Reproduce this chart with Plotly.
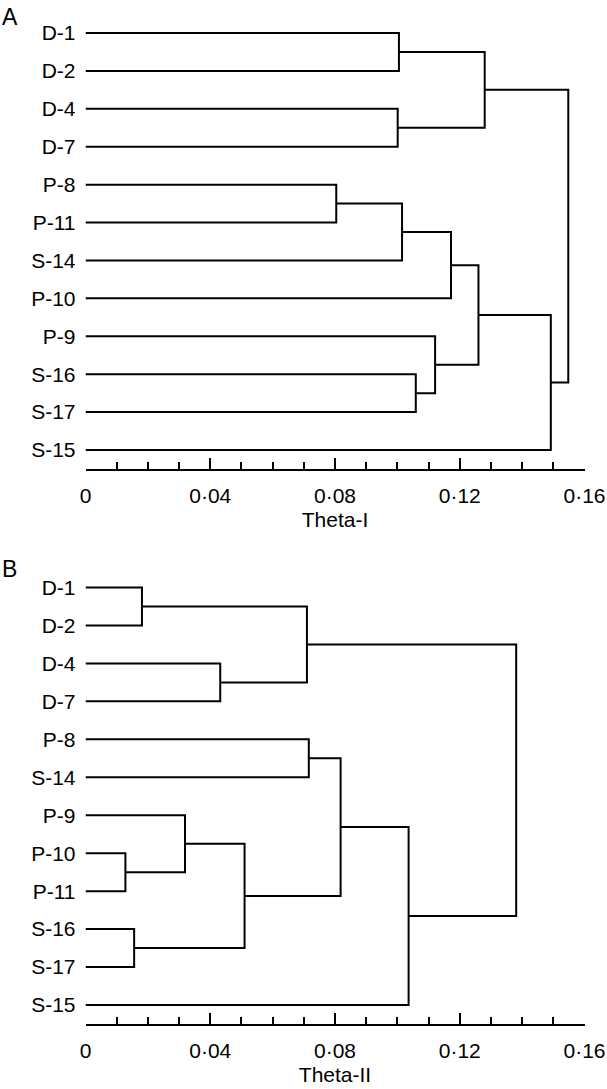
import numpy as np
import plotly.graph_objects as go

# ---------------- data ----------------
leaves_A = ["D-1", "D-2", "D-4", "D-7", "P-8", "P-11", "S-14", "P-10", "P-9", "S-16", "S-17", "S-15"]
# merges: (left, right, height); clusters referenced as "c<index>"
merges_A = [
    ("D-1", "D-2", 0.1005),
    ("D-4", "D-7", 0.1001),
    ("c0", "c1", 0.1280),
    ("P-8", "P-11", 0.0804),
    ("c3", "S-14", 0.1015),
    ("c4", "P-10", 0.1172),
    ("S-16", "S-17", 0.1059),
    ("P-9", "c6", 0.1121),
    ("c5", "c7", 0.1260),
    ("c8", "S-15", 0.1492),
    ("c2", "c9", 0.1548),
]

leaves_B = ["D-1", "D-2", "D-4", "D-7", "P-8", "S-14", "P-9", "P-10", "P-11", "S-16", "S-17", "S-15"]
merges_B = [
    ("D-1", "D-2", 0.0181),
    ("D-4", "D-7", 0.0432),
    ("c0", "c1", 0.0710),
    ("P-8", "S-14", 0.0716),
    ("P-10", "P-11", 0.0128),
    ("P-9", "c4", 0.0319),
    ("S-16", "S-17", 0.0156),
    ("c5", "c6", 0.0510),
    ("c3", "c7", 0.0818),
    ("c8", "S-15", 0.1036),
    ("c2", "c9", 0.1381),
]

x_tick_vals = [0, 0.04, 0.08, 0.12, 0.16]
x_tick_text = ["0", "0·04", "0·08", "0·12", "0·16"]
x_titles = ["Theta-I", "Theta-II"]
panel_labels = ["A", "B"]


def dendro_segments(leaves, merges):
    pos = {name: (0.0, float(i)) for i, name in enumerate(leaves)}
    xs, ys = [], []
    for k, (a, b, h) in enumerate(merges):
        xa, ya = pos[a]
        xb, yb = pos[b]
        xs += [xa, h, h, xb, None]
        ys += [ya, ya, yb, yb, None]
        pos["c%d" % k] = (h, (ya + yb) / 2.0)
    return xs, ys


W, H = 607, 1089
FONT = "Liberation Sans, Arial, Helvetica, sans-serif"
FS = 21
x0_px, x1_px = 85.5, 584.5
panels_px = [(14, 469), (568.5, 1024)]

fig = go.Figure()
layout = dict(
    width=W, height=H,
    margin=dict(l=0, r=0, t=0, b=0, autoexpand=False),
    plot_bgcolor="white", paper_bgcolor="white",
    showlegend=False,
    font=dict(family=FONT, size=FS, color="black"),
)

for p, (leaves, merges) in enumerate([(leaves_A, merges_A), (leaves_B, merges_B)]):
    xs, ys = dendro_segments(leaves, merges)
    sfx = "" if p == 0 else str(p + 1)
    fig.add_trace(go.Scatter(
        x=xs, y=ys, mode="lines",
        line=dict(color="black", width=2),
        xaxis="x" + sfx, yaxis="y" + sfx,
        hoverinfo="skip", cliponaxis=False,
    ))
    top, bot = panels_px[p]
    layout["xaxis" + sfx] = dict(
        domain=[x0_px / W, x1_px / W],
        anchor="y" + sfx,
        range=[0, 0.16],
        automargin=False,
        showgrid=False, zeroline=False,
        showline=True, linecolor="black", linewidth=2,
        ticks="inside", ticklen=11, tickwidth=2, tickcolor="black",
        tickmode="array", tickvals=x_tick_vals, ticktext=x_tick_text,
        tickfont=dict(size=FS, family=FONT, color="black"),
        ticklabelstandoff=7,
        minor=dict(ticks="inside", ticklen=7, tickwidth=2, tickcolor="black",
                   tickmode="array", tickvals=list(np.round(np.arange(0, 0.1601, 0.01), 2)),
                   showgrid=False),
        title=dict(text=x_titles[p], font=dict(size=FS, family=FONT, color="black"), standoff=6),
    )
    layout["yaxis" + sfx] = dict(
        domain=[1 - bot / H, 1 - top / H],
        anchor="x" + sfx,
        range=[len(leaves) - 0.5, -0.5],
        automargin=False,
        showgrid=False, zeroline=False, showline=False,
        ticks="", tickmode="array",
        tickvals=list(range(len(leaves))), ticktext=leaves,
        tickfont=dict(size=FS, family=FONT, color="black"),
        ticklabelstandoff=9,
    )

layout["annotations"] = [
    dict(text=panel_labels[0], x=0, y=1 - 2 / H, xref="paper", yref="paper",
         xanchor="left", yanchor="top", showarrow=False, font=dict(size=23, family=FONT, color="black")),
    dict(text=panel_labels[1], x=0, y=1 - 554 / H, xref="paper", yref="paper",
         xanchor="left", yanchor="top", showarrow=False, font=dict(size=23, family=FONT, color="black")),
]

fig.update_layout(**layout)
fig.write_html("out.html", config={"displayModeBar": False},
               post_script="document.body.style.margin='0px';document.body.style.padding='0px';")
